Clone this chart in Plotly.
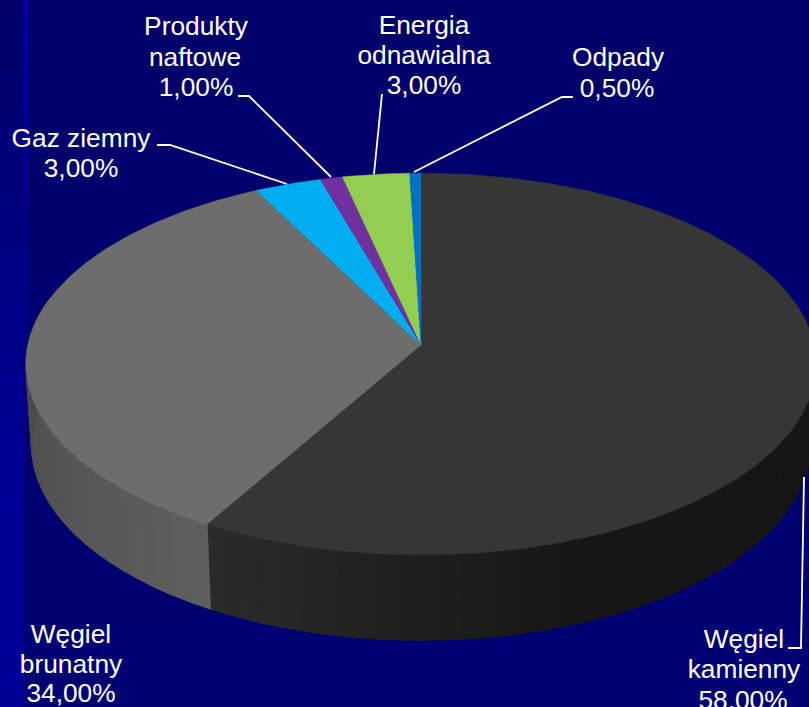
import math
import plotly.graph_objects as go

categories = ["Węgiel kamienny", "Węgiel brunatny", "Gaz ziemny", "Produkty naftowe", "Energia odnawialna", "Odpady"]
shares = [58.0, 34.0, 3.0, 1.0, 3.0, 0.5]
top_colors = ["#363636", "#6d6d6d", "#00aeef", "#7030a0", "#92cf50", "#0070c0"]
label_lines = ["Węgiel", "kamienny", "58,00%", "Węgiel", "brunatny", "34,00%", "Gaz ziemny", "3,00%",
               "Produkty", "naftowe", "1,00%", "Energia", "odnawialna", "3,00%", "Odpady", "0,50%"]
label_x = [744, 744, 743, 71, 71, 71, 81, 81, 196, 195, 196, 424, 424, 424, 618, 617]
label_y = [641, 671, 702, 636, 666, 695, 140, 170, 28, 59, 89, 27, 57, 87, 59, 90]
leader_x = [[804, 801, 788], [287, 170, 157], [331, 249, 238], [374, 382], [414, 562, 573]]
leader_y = [[477, 648, 648], [184, 145, 145], [177, 96, 96], [174, 94], [172, 97, 97]]

W, H = 809, 707
X0, Y0, B, C, D, K, M = 421.0, 345.0, 393.0, 189.0, 80.8, 0.0995, 0.014


def proj(theta, z=0.0, r=1.0):
    sx, cy = r * math.sin(theta), r * math.cos(theta)
    w = 1 + K * cy + M * z
    return X0 + B * sx / w, Y0 + (D * z - C * cy) / w


def rgb(a):
    v = int(round(a))
    return f"rgb({v},{v},{v})"


def strip(a, b, col):
    pts = [proj(a + (b - a) * j / 4, 0) for j in range(5)] + [proj(b - (b - a) * j / 4, 1) for j in range(5)]
    pts.append(pts[0])
    fig.add_trace(go.Scatter(x=[p[0] for p in pts], y=[p[1] for p in pts], mode="lines", fill="toself",
                             fillcolor=col, line=dict(color=col, width=1.5), hoverinfo="skip", showlegend=False))


total = sum(shares)
edges = [0.0]
for s in shares:
    edges.append(edges[-1] + s / total * 2 * math.pi)

fig = go.Figure()

# side walls, only the visible front half
SIDE_START, SIDE_END = math.radians(80), math.radians(285)
boundary = edges[1]
N1, N2 = 48, 24
for i in range(N1):
    a = SIDE_START + (boundary - SIDE_START) * i / N1
    b = SIDE_START + (boundary - SIDE_START) * (i + 1) / N1
    t = (boundary - b) / (boundary - SIDE_START)
    strip(a, b, rgb(22 + 20 * (1 - min(1.0, t * 2.6))))
for i in range(N2):
    a = boundary + (SIDE_END - boundary) * i / N2
    b = boundary + (SIDE_END - boundary) * (i + 1) / N2
    t = (a - boundary) / (SIDE_END - boundary)
    strip(a, b, rgb(94 - 24 * t))

# top face wedges
for i, name in enumerate(categories):
    a, b = edges[i], edges[i + 1]
    n = max(3, int((b - a) * 60))
    pts = [proj(0, 0, 0)] + [proj(a + (b - a) * j / n) for j in range(n + 1)] + [proj(0, 0, 0)]
    fig.add_trace(go.Scatter(x=[p[0] for p in pts], y=[p[1] for p in pts], mode="lines", fill="toself",
                             fillcolor=top_colors[i], line=dict(color=top_colors[i], width=0.5),
                             name=name, hoverinfo="name", showlegend=False))

# leader lines
for lx, ly in zip(leader_x, leader_y):
    fig.add_trace(go.Scatter(x=lx, y=ly, mode="lines", line=dict(color="#ffffff", width=1.8),
                             hoverinfo="skip", showlegend=False))

# labels
fig.add_trace(go.Scatter(x=label_x, y=label_y, mode="text", text=label_lines, textposition="middle center",
                         textfont=dict(family="Liberation Sans", size=26.3, color="#ffffff"),
                         hoverinfo="skip", showlegend=False, cliponaxis=False))

# background band
shapes = []
ROWS = 40
for r in range(ROWS):
    t = r / (ROWS - 1)
    y0, y1 = H * r / ROWS, H * (r + 1) / ROWS
    left = f"rgb(0,0,{int(min(152, 104 + 70 * t))})"
    stripe = f"rgb(0,0,{int(max(112, 170 - 85 * t))})"
    main = f"rgb(0,0,{int(107 + 8 * t)})"
    shapes.append(dict(type="rect", xref="x", yref="y", x0=0, x1=24, y0=y0, y1=y1, fillcolor=left, line_width=0, layer="below"))
    shapes.append(dict(type="rect", xref="x", yref="y", x0=24, x1=28, y0=y0, y1=y1, fillcolor=stripe, line_width=0, layer="below"))
    shapes.append(dict(type="rect", xref="x", yref="y", x0=28, x1=W, y0=y0, y1=y1, fillcolor=main, line_width=0, layer="below"))

fig.update_layout(width=W, height=H, margin=dict(l=0, r=0, t=0, b=0), paper_bgcolor="#00006b", plot_bgcolor="#00006b",
                  shapes=shapes, showlegend=False,
                  xaxis=dict(range=[0, W], visible=False, fixedrange=True),
                  yaxis=dict(range=[H, 0], visible=False, fixedrange=True))
fig.write_html("out.html", post_script="document.body.style.margin='0';document.documentElement.style.overflow='hidden';",
               config=dict(displayModeBar=False))
